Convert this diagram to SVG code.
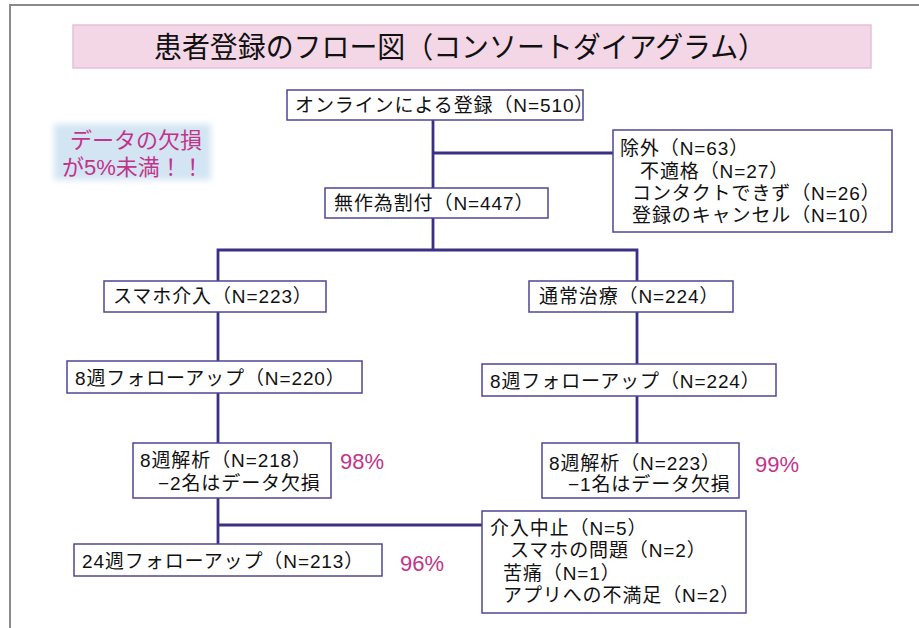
<svg xmlns="http://www.w3.org/2000/svg" width="919" height="628" viewBox="0 0 919 628">
<defs>
<style>
.t{font-family:"Liberation Sans","Noto Sans CJK JP",sans-serif;font-size:19px;fill:#111;letter-spacing:0.9px}
.box{fill:#fff;stroke:#4e4796;stroke-width:1.5}
.pct{font-family:"Liberation Sans","Noto Sans CJK JP",sans-serif;font-size:22px;fill:#c2338a}
.conn{fill:none;stroke:#3b3085;stroke-width:2.8}
</style>
<filter id="soft" x="-10%" y="-20%" width="120%" height="140%"><feGaussianBlur stdDeviation="3"/></filter>
</defs>
<rect width="919" height="628" fill="#fff"/>
<path d="M10,628 V5 H919" fill="none" stroke="#8a8a8a" stroke-width="2"/>

<g id="title">
<rect x="73" y="25" width="798" height="43" fill="#f3d7e7" stroke="#e4c1d7" stroke-width="1.5"/>
<text x="460" y="58" text-anchor="middle" font-family="Noto Sans CJK JP,sans-serif" font-size="29" fill="#111" textLength="612" lengthAdjust="spacingAndGlyphs">患者登録のフロー図（コンソートダイアグラム）</text>
</g>

<g id="note">
<rect x="54" y="124" width="157" height="56" fill="#d3e5f3" filter="url(#soft)"/>
<text class="pct" x="70" y="148">データの欠損</text>
<text class="pct" x="62" y="175">が5%未満！！</text>
</g>

<g id="connectors">
<path class="conn" d="M433,120 V188"/>
<path class="conn" d="M433,153 H613"/>
<path class="conn" d="M433,218 V250 M218,281 V250 H637 V281"/>
<path class="conn" d="M218,312 V361 M218,393 V443 M218,498 V544"/>
<path class="conn" d="M218,525 H482"/>
<path class="conn" d="M637,312 V364 M637,396 V443"/>
</g>

<g id="online">
<rect class="box" x="287" y="90" width="296" height="30"/>
<text class="t" x="295" y="112">オンラインによる登録（N=510）</text>
</g>

<g id="exclusion">
<rect class="box" x="613" y="130" width="279" height="102"/>
<text class="t" x="620" y="155">除外（N=63）</text>
<text class="t" x="640" y="178">不適格（N=27）</text>
<text class="t" x="632" y="200">コンタクトできず（N=26）</text>
<text class="t" x="632" y="222">登録のキャンセル（N=10）</text>
</g>

<g id="random">
<rect class="box" x="325" y="188" width="223" height="30"/>
<text class="t" x="334" y="210">無作為割付（N=447）</text>
</g>

<g id="smartphone">
<rect class="box" x="104" y="281" width="222" height="31"/>
<text class="t" x="113" y="303">スマホ介入（N=223）</text>
</g>

<g id="usual">
<rect class="box" x="529" y="281" width="204" height="31"/>
<text class="t" x="539" y="303">通常治療（N=224）</text>
</g>

<g id="fu8-left">
<rect class="box" x="67" y="361" width="295" height="32"/>
<text class="t" x="75" y="385">8週フォローアップ（N=220）</text>
</g>

<g id="fu8-right">
<rect class="box" x="482" y="364" width="294" height="32"/>
<text class="t" x="490" y="388">8週フォローアップ（N=224）</text>
</g>

<g id="ana8-left">
<rect class="box" x="133" y="443" width="198" height="55"/>
<text class="t" x="140" y="467">8週解析（N=218）</text>
<text class="t" x="158" y="490">−2名はデータ欠損</text>
<text class="pct" x="340" y="469">98%</text>
</g>

<g id="ana8-right">
<rect class="box" x="542" y="443" width="197" height="55"/>
<text class="t" x="549" y="470">8週解析（N=223）</text>
<text class="t" x="568" y="491">−1名はデータ欠損</text>
<text class="pct" x="755" y="472">99%</text>
</g>

<g id="discontinue">
<rect class="box" x="482" y="511" width="264" height="102"/>
<text class="t" x="490" y="535">介入中止（N=5）</text>
<text class="t" x="510" y="557">スマホの問題（N=2）</text>
<text class="t" x="503" y="580">苦痛（N=1）</text>
<text class="t" x="503" y="602">アプリへの不満足（N=2）</text>
</g>

<g id="fu24">
<rect class="box" x="74" y="544" width="308" height="32"/>
<text class="t" x="82" y="568">24週フォローアップ（N=213）</text>
<text class="pct" x="400" y="571">96%</text>
</g>
</svg>
